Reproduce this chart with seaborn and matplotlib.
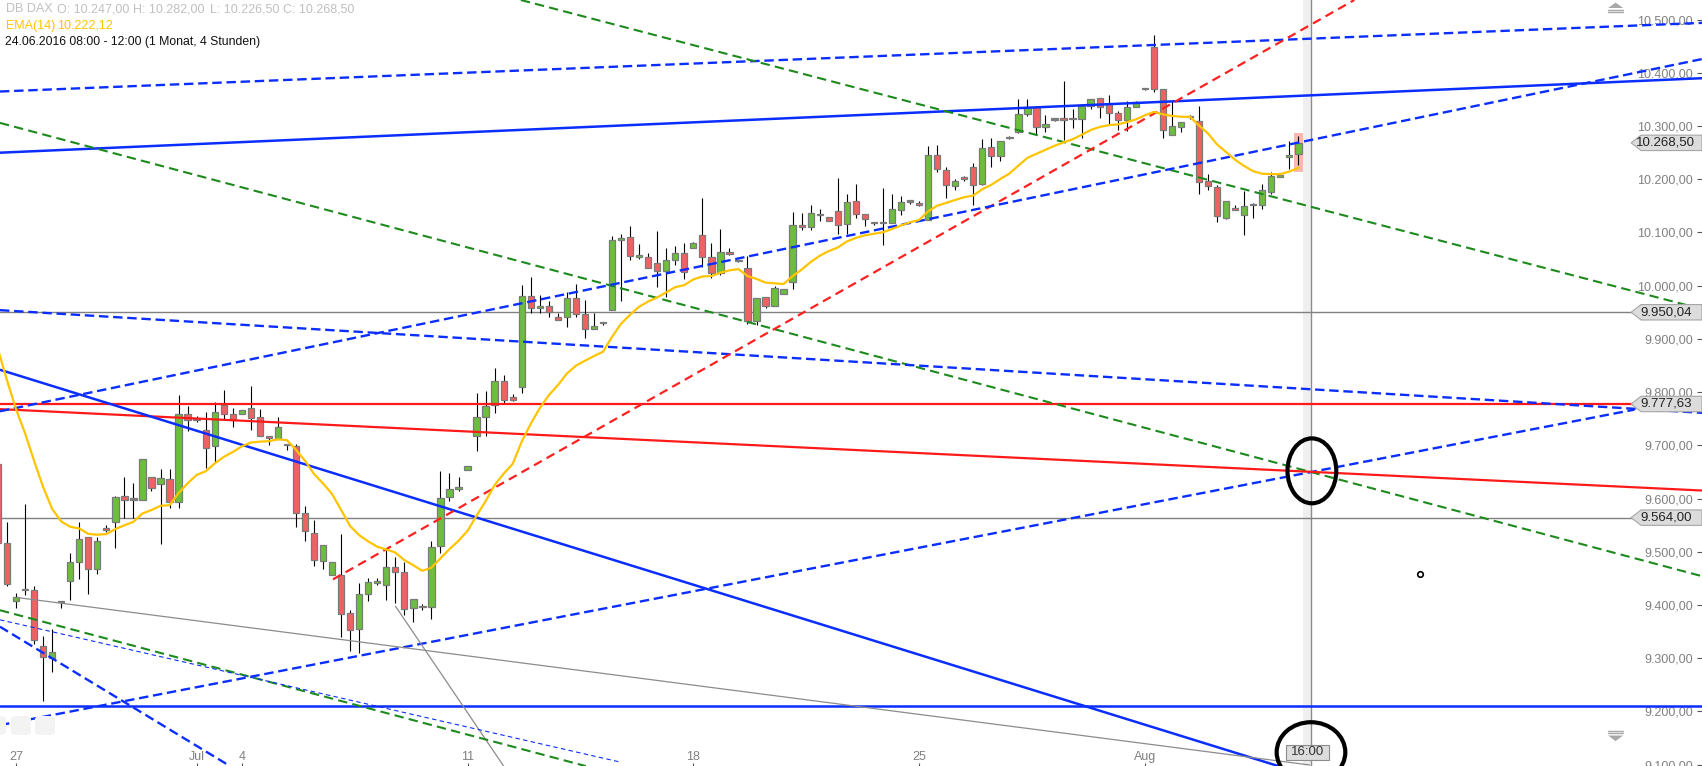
import numpy as np
import pandas as pd
import matplotlib
matplotlib.use("Agg")
import matplotlib.pyplot as plt
import seaborn as sns
from matplotlib.patches import Ellipse, Polygon, Rectangle, FancyBboxPatch

# DB DAX, 4h candles; first entry is the 4th bar of 24.06.2016 (index -1)
first_idx = -1
opens = [9665, 9516, 9407, 9428, 9428, 9323, 9301, 9405, 9444, 9480,
         9527, 9468, 9545, 9555, 9605, 9598, 9598, 9641, 9628, 9637,
         9594, 9758, 9748, 9728, 9698, 9776, 9758, 9758, 9771, 9753,
         9718, 9712, 9700, 9698, 9573, 9536, 9482, 9456, 9456, 9385,
         9354, 9420, 9441, 9437, 9471, 9461, 9394, 9396, 9397, 9510,
         9603, 9618, 9654, 9717, 9753, 9775, 9821, 9791, 9810, 9980,
         9958, 9961, 9941, 9941, 9977, 9947, 9919, 9929, 9954, 10086,
         10092, 10054, 10053, 10042, 10028, 10048, 10061, 10071, 10096, 10054,
         10023, 10064, 10046, 10034, 9934, 9979, 9961, 9985, 10007, 10115,
         10111, 10133, 10129, 10140, 10116, 10159, 10134, 10117, 10117, 10117,
         10143, 10158, 10156, 10123, 10245, 10218, 10188, 10204, 10223, 10192,
         10261, 10243, 10277, 10289, 10323, 10335, 10298, 10312, 10315, 10313,
         10313, 10337, 10353, 10342, 10325, 10312, 10336, 10370, 10449, 10369,
         10284, 10298, 10317, 10309, 10196, 10185, 10128, 10146, 10132, 10151,
         10152, 10177, 10204, 10242, 10247]
highs = [9672, 9555, 9423, 9589, 9435, 9342, 9354, 9408, 9497, 9555,
         9527, 9528, 9550, 9605, 9641, 9630, 9674, 9641, 9655, 9655,
         9795, 9774, 9756, 9762, 9781, 9804, 9771, 9767, 9811, 9769,
         9718, 9753, 9701, 9703, 9585, 9559, 9512, 9480, 9533, 9390,
         9441, 9451, 9451, 9507, 9490, 9480, 9411, 9401, 9521, 9652,
         9647, 9641, 9661, 9798, 9802, 9845, 9833, 9797, 10001, 10017,
         9982, 9972, 9948, 9989, 10004, 9974, 9949, 9931, 10094, 10097,
         10113, 10078, 10061, 10102, 10071, 10075, 10080, 10082, 10165, 10081,
         10107, 10070, 10048, 10055, 9977, 9979, 9999, 9994, 10138, 10136,
         10152, 10144, 10129, 10203, 10173, 10191, 10134, 10120, 10184, 10172,
         10168, 10162, 10159, 10262, 10264, 10224, 10201, 10207, 10230, 10276,
         10277, 10272, 10281, 10350, 10351, 10335, 10321, 10314, 10384, 10333,
         10342, 10351, 10353, 10359, 10329, 10348, 10348, 10372, 10472, 10369,
         10348, 10307, 10321, 10338, 10210, 10189, 10159, 10152, 10178, 10156,
         10192, 10214, 10209, 10272, 10282]
lows = [9512, 9435, 9395, 9418, 9326, 9220, 9273, 9395, 9410, 9448,
        9421, 9458, 9537, 9507, 9564, 9564, 9598, 9614, 9515, 9583,
        9583, 9726, 9743, 9658, 9669, 9748, 9734, 9758, 9728, 9718,
        9700, 9712, 9692, 9547, 9520, 9474, 9468, 9456, 9340, 9314,
        9309, 9408, 9438, 9410, 9404, 9381, 9368, 9391, 9373, 9497,
        9595, 9614, 9654, 9689, 9718, 9761, 9778, 9783, 9799, 9948,
        9948, 9942, 9936, 9922, 9941, 9901, 9919, 9927, 9954, 9972,
        10048, 10050, 10034, 9998, 9979, 10039, 10013, 10071, 10036, 10014,
        10021, 10058, 10044, 9928, 9927, 9958, 9961, 9985, 9993, 10105,
        10105, 10122, 10122, 10097, 10097, 10128, 10113, 10114, 10076, 10117,
        10133, 10154, 10150, 10123, 10214, 10165, 10180, 10196, 10151, 10189,
        10223, 10235, 10275, 10287, 10319, 10284, 10289, 10310, 10273, 10297,
        10277, 10333, 10316, 10303, 10292, 10291, 10336, 10368, 10365, 10277,
        10284, 10289, 10314, 10172, 10179, 10120, 10125, 10142, 10096, 10127,
        10145, 10173, 10204, 10219, 10226.5]
closes = [9516, 9440, 9415, 9429, 9334, 9302, 9312, 9405, 9481, 9523,
          9468, 9521, 9541, 9603, 9597, 9598, 9674, 9620, 9639, 9594,
          9758, 9747, 9748, 9695, 9762, 9758, 9747, 9767, 9752, 9718,
          9713, 9734, 9700, 9573, 9538, 9484, 9512, 9480, 9382, 9353,
          9420, 9443, 9444, 9471, 9461, 9392, 9411, 9396, 9509, 9601,
          9618, 9622, 9661, 9753, 9773, 9821, 9786, 9785, 9980, 9958,
          9961, 9951, 9936, 9977, 9946, 9919, 9925, 9929, 10085, 10089,
          10056, 10058, 10034, 10028, 10049, 10061, 10026, 10081, 10054, 10023,
          10064, 10059, 10046, 9934, 9977, 9961, 9996, 9994, 10115, 10111,
          10136, 10133, 10122, 10115, 10157, 10134, 10126, 10117, 10119, 10145,
          10157, 10158, 10151, 10246, 10219, 10190, 10197, 10200, 10190, 10259,
          10243, 10272, 10277, 10323, 10335, 10298, 10304, 10312, 10311, 10313,
          10338, 10351, 10336, 10324, 10312, 10336, 10345, 10370, 10369, 10292,
          10300, 10307, 10317, 10195, 10188, 10131, 10159, 10142, 10150, 10151,
          10179, 10206, 10209, 10246, 10268.5]

ema_seed = 9937          # EMA(14) level coming in from the left edge
ema_shown = 10222.12     # value printed in the header

day_ticks = [1, 21, 26, 51, 76, 101, 126]
day_labels = ['27', 'Jul', '4', '11', '18', '25', 'Aug']
price_ticks = [9100, 9200, 9300, 9400, 9500, 9600, 9700, 9800, 9900,
               10000, 10100, 10200, 10300, 10400, 10500]

# drawn trend lines: (x0, y0, x1, y1) in bar index / price
blue_dash_top = (-0.78, 10365, 187.7, 10494)
blue_solid_top = (-0.78, 10250, 187.7, 10390)
green_dash_top = (56.9, 10537, 187.7, 9956)
green_dash_mid = (-0.78, 10306, 187.7, 9454)
blue_dash_rise = (-0.78, 9174, 180.2, 9767)
blue_dash_fall = (-0.78, 9954, 187.7, 9761)
red_solid_fall = (-0.78, 9768, 187.7, 9615)
blue_solid_fall = (-0.78, 9842, 140.8, 9097)
red_dash_rise = (36.1, 9448, 149.2, 10537)
blue_dash_mid = (-0.78, 9764, 187.7, 10426)
gray_long = (1.07, 9414, 144.3, 9099)
gray_steep = (43.0, 9398, 55.0, 9097)
green_dash_low = (-0.78, 9390, 64.1, 9097)
blue_thin_low = (-0.78, 9372, 67.8, 9105)
blue_dash_steep = (-0.78, 9359, 24.7, 9097)

level_red = 9777.63
level_gray_hi = 9950.04
level_gray_lo = 9564.00
level_blue = 9210.5


def de_fmt(v):
    s = f"{v:,.2f}"
    return s.replace(',', 'X').replace('.', ',').replace('X', '.')


sns.set_theme(style="white")
plt.rcParams['font.family'] = ['Liberation Sans', 'DejaVu Sans']

fig = plt.figure(figsize=(17.02, 7.66), dpi=100)
ax = fig.add_axes([0, 0, 1, 1])
ax.set_xlim(-0.775, 187.7)
ax.set_ylim(9097.2, 10537.0)
for sp in ax.spines.values():
    sp.set_visible(False)

df = pd.DataFrame({'o': opens, 'h': highs, 'l': lows, 'c': closes})
df['i'] = np.arange(first_idx, first_idx + len(df))
df['ema'] = pd.Series([ema_seed] + closes).ewm(alpha=2 / 15, adjust=False).mean().values[1:]

# cursor slot
ax.axvspan(143.5, 144.45, color='#efefef', lw=0, zorder=0.5)
ax.axvline(144.45, color='#8c8c8c', lw=1.0, zorder=1)

# highlight of the last bar
last = df.iloc[-1]
ax.add_patch(Rectangle((last.i - 0.48, last.l - 12), 0.96, last.h - last.l + 17,
                       facecolor='#f8b8ae', edgecolor='none', zorder=1.5))

# candles
ax.vlines(df.i, df.l, df.h, color='black', lw=0.8, zorder=2)
body_lo = np.minimum(df.o, df.c)
body_h = np.maximum((df.c - df.o).abs(), 2.5)
cols = np.where((df.c - df.o).abs() < 3, '#808080', np.where(df.c > df.o, '#6cbf3c', '#f06262'))
ax.bar(df.i, body_h, bottom=body_lo, width=0.7, color=cols, edgecolor='#7a7a7a',
       linewidth=0.9, zorder=3)

# horizontal levels
ax.axhline(level_gray_hi, color='#808080', lw=1.0, zorder=1)
ax.axhline(level_gray_lo, color='#808080', lw=1.0, zorder=1)
ax.axhline(level_red, color='#ff1a1a', lw=1.6, zorder=4)
ax.axhline(level_blue, color='#0a2eff', lw=1.8, zorder=4)


def seg(line, **kw):
    x0, y0, x1, y1 = line
    ax.plot([x0, x1], [y0, y1], solid_capstyle='butt', zorder=4, **kw)


blue = '#0a2eff'
green = '#1d8a1d'
seg(blue_dash_top, color=blue, lw=1.7, dashes=(4, 2))
seg(blue_solid_top, color=blue, lw=1.8)
seg(green_dash_top, color=green, lw=1.5, dashes=(4.5, 2.5))
seg(green_dash_mid, color=green, lw=1.5, dashes=(4.5, 2.5))
seg(blue_dash_rise, color=blue, lw=1.7, dashes=(4, 2))
seg(blue_dash_fall, color=blue, lw=1.7, dashes=(4, 2))
seg(red_solid_fall, color='#ff1a1a', lw=1.6)
seg(blue_solid_fall, color=blue, lw=1.8)
seg(red_dash_rise, color='#ff2020', lw=1.6, dashes=(4, 2.5))
seg(blue_dash_mid, color=blue, lw=1.7, dashes=(4, 2))
seg(gray_long, color='#8c8c8c', lw=0.9)
seg(gray_steep, color='#8c8c8c', lw=0.9)
seg(green_dash_low, color=green, lw=1.5, dashes=(4.5, 2.5))
seg(blue_thin_low, color=blue, lw=0.8, dashes=(4, 3))
seg(blue_dash_steep, color=blue, lw=1.7, dashes=(4, 2))

# EMA(14)
sns.lineplot(x=df.i, y=df.ema, ax=ax, color='#ffc400', lw=1.6, zorder=5)

# circles drawn on the chart
ax.add_patch(Ellipse((144.5, 9652), 5.4, 122, fill=False, ec='black', lw=3, zorder=6))
ax.add_patch(Ellipse((144.4, 9123), 7.6, 113, fill=False, ec='black', lw=3, zorder=6))
ax.plot([156.5], [9458], marker='o', ms=4, mfc='white', mec='black', mew=1.2, zorder=6)

# 16:00 time tag
ax.add_patch(Rectangle((141.6, 9109), 4.8, 28, facecolor='#dcdcdc', edgecolor='#8c8c8c',
                       lw=0.8, zorder=7))
ax.text(144.0, 9123.5, '16:00', ha='center', va='center', fontsize=9.5, color='#333333', zorder=8)


# price tags on the right
def price_tag(p):
    hh = 14.5
    pts = [(179.85, p), (180.95, p + hh), (187.7, p + hh), (187.7, p - hh), (180.95, p - hh)]
    ax.add_patch(Polygon(pts, closed=True, facecolor='#dcdcdc', edgecolor='#a6a6a6',
                         lw=0.8, zorder=7))
    ax.text(183.7, p, de_fmt(p), ha='center', va='center', fontsize=9.5, color='#222222',
            zorder=8)


for p in [last.c, level_gray_hi, level_red, level_gray_lo]:
    price_tag(p)

# axis ticks drawn inside the plot
ax.yaxis.tick_right()
ax.set_yticks(price_ticks)
ax.set_yticklabels([de_fmt(v) for v in price_ticks])
ax.tick_params(axis='y', direction='in', length=3.5, width=0.8, color='#555555',
               pad=-6.5, labelsize=9, labelcolor='#808080', right=True, left=False)
for lab in ax.get_yticklabels():
    lab.set_horizontalalignment('right')
ax.set_xticks(day_ticks)
ax.set_xticklabels(day_labels)
ax.tick_params(axis='x', direction='in', length=2.5, width=0.8, color='#555555',
               pad=-11, labelsize=9, labelcolor='#808080', bottom=True)
ax.set_xlabel('')
ax.set_ylabel('')

# small chart icons (scroll arrows)
icon = '#a8a8a8'
ax.add_patch(Polygon([(177.3, 10522), (178.97, 10522), (178.13, 10532)], closed=True,
                     facecolor=icon, edgecolor='none', zorder=6))
ax.plot([177.3, 178.97], [10519, 10519], color=icon, lw=1.0, zorder=6)
ax.plot([177.3, 178.97], [10514.5, 10514.5], color=icon, lw=1.0, zorder=6)
ax.add_patch(Polygon([(177.3, 9154.5), (178.97, 9154.5), (178.13, 9144)], closed=True,
                     facecolor=icon, edgecolor='none', zorder=6))
ax.plot([177.3, 178.97], [9163, 9163], color=icon, lw=1.0, zorder=6)
ax.plot([177.3, 178.97], [9158.5, 9158.5], color=icon, lw=1.0, zorder=6)

# faint toolbar buttons bottom-left
W, H = 1702, 766
for x0, w in [(-14, 20), (11, 20), (35, 20)]:
    fig.patches.append(FancyBboxPatch((x0 / W, 1 - 735 / H), w / W, 19 / H,
                                      boxstyle='round,pad=0,rounding_size=0.004',
                                      transform=fig.transFigure, facecolor='#f3f3f3',
                                      edgecolor='none', zorder=0.8))

# header
hdr = [(5.7, 'DB DAX'), (57.4, 'O: 10.247,00'), (133.2, 'H: 10.282,00'),
       (209.7, 'L: 10.226,50'), (283.2, 'C: 10.268,50')]
for x, t in hdr:
    fig.text(x / W, 1 - 9.5 / H, t, ha='left', va='center', fontsize=9, color='#c0c0c0')
fig.text(5.7 / W, 1 - 25.7 / H, 'EMA(14)', ha='left', va='center', fontsize=9, color='#ffc400')
fig.text(57.4 / W, 1 - 25.7 / H, de_fmt(ema_shown), ha='left', va='center',
         fontsize=9, color='#ffc400')
fig.text(4.6 / W, 1 - 41.7 / H, '24.06.2016 08:00 - 12:00 (1 Monat, 4 Stunden)', ha='left',
         va='center', fontsize=8.8, color='#111111')

fig.savefig('out.png', dpi=100)
